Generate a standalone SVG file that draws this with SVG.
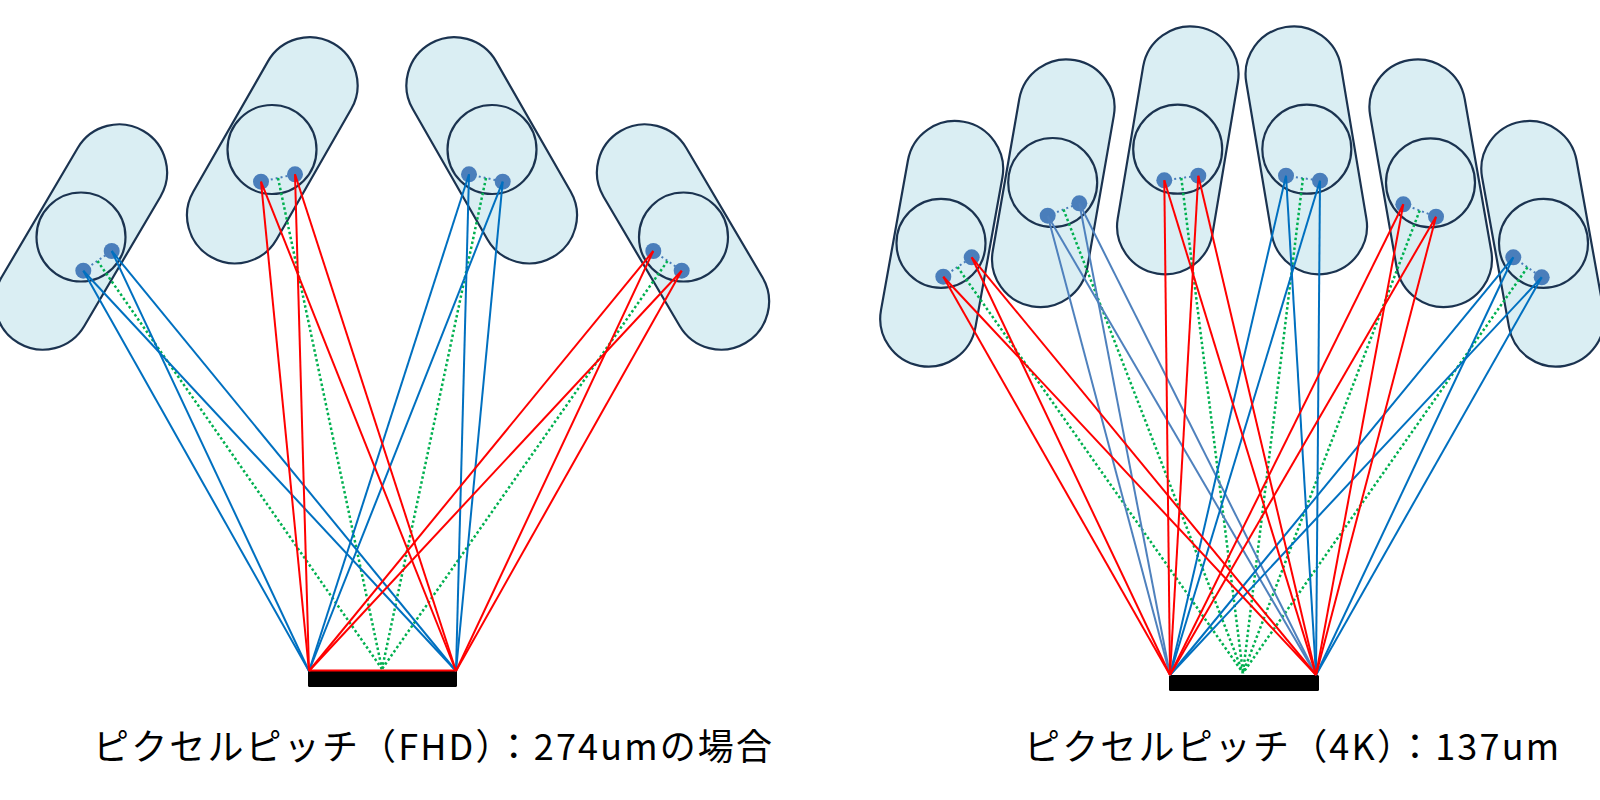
<svg xmlns="http://www.w3.org/2000/svg" width="1600" height="800" viewBox="0 0 1600 800">
<style>
.pill{fill:#DAEEF3;stroke:#1B3350;stroke-width:2.2}
.lens{fill:none;stroke:#1B3350;stroke-width:2.2}
.dot{fill:#4A7EBB}
.pair{stroke:#4A7EBB;stroke-width:2;stroke-dasharray:2 3;fill:none}
.g{stroke:#00B050;stroke-width:2.5;stroke-dasharray:2.5 2.5;fill:none}
.b{stroke:#0070C0;stroke-width:2;fill:none}
.sb{stroke:#4F81BD;stroke-width:2;fill:none}
.r{stroke:#FF0000;stroke-width:2;fill:none}
.bar{fill:#000}
.cap{font-family:"Noto Sans CJK JP","Noto Sans",sans-serif;font-size:36px;fill:#000}
</style>
<rect width="1600" height="800" fill="#fff"/>

<!-- Left diagram -->
<g id="fhd-eye-1">
<rect class="pill" x="-48" y="-123" width="96" height="246" rx="48" transform="translate(81,237) rotate(30.5)"/>
<circle class="lens" cx="81" cy="237" r="44.5"/>
<circle class="dot" cx="83.3" cy="270.7" r="8"/>
<circle class="dot" cx="111.7" cy="251" r="8"/>
</g>
<g id="fhd-eye-2">
<rect class="pill" x="-48" y="-123" width="96" height="246" rx="48" transform="translate(272.3,150.3) rotate(29.8)"/>
<circle class="lens" cx="272" cy="149.5" r="44.5"/>
<circle class="dot" cx="261" cy="181.7" r="8"/>
<circle class="dot" cx="295" cy="174.3" r="8"/>
</g>
<g id="fhd-eye-3">
<rect class="pill" x="-48" y="-123" width="96" height="246" rx="48" transform="translate(491.7,150.3) rotate(-29.8)"/>
<circle class="lens" cx="492" cy="149.5" r="44.5"/>
<circle class="dot" cx="469" cy="174.3" r="8"/>
<circle class="dot" cx="502.7" cy="181.7" r="8"/>
</g>
<g id="fhd-eye-4">
<rect class="pill" x="-48" y="-123" width="96" height="246" rx="48" transform="translate(683,237) rotate(-30.5)"/>
<circle class="lens" cx="683.5" cy="237" r="44.5"/>
<circle class="dot" cx="653.3" cy="251" r="8"/>
<circle class="dot" cx="681.7" cy="270.7" r="8"/>
</g>
<g id="fhd-panel">
<rect class="bar" x="308" y="670" width="149" height="17" rx="1.5"/>
</g>

<!-- Right diagram -->
<g id="k4-eye-1">
<rect class="pill" x="-48" y="-124" width="96" height="248" rx="48" transform="translate(941.7,243.8) rotate(10.2)"/>
<circle class="lens" cx="941" cy="243.3" r="44.5"/>
<circle class="dot" cx="943.3" cy="276.7" r="8"/>
<circle class="dot" cx="971.7" cy="257.3" r="8"/>
</g>
<g id="k4-eye-2">
<rect class="pill" x="-48" y="-125" width="96" height="250" rx="48" transform="translate(1053.3,183.2) rotate(9.9)"/>
<circle class="lens" cx="1052.7" cy="182.5" r="44.5"/>
<circle class="dot" cx="1047.7" cy="215.7" r="8"/>
<circle class="dot" cx="1079.3" cy="203.3" r="8"/>
</g>
<g id="k4-eye-3">
<rect class="pill" x="-48" y="-125" width="96" height="250" rx="48" transform="translate(1177.8,150.3) rotate(9.5)"/>
<circle class="lens" cx="1177.7" cy="149.2" r="44.5"/>
<circle class="dot" cx="1164.3" cy="180.3" r="8"/>
<circle class="dot" cx="1198.3" cy="175.7" r="8"/>
</g>
<g id="k4-eye-4">
<rect class="pill" x="-48" y="-125" width="96" height="250" rx="48" transform="translate(1306.3,150.3) rotate(-9.5)"/>
<circle class="lens" cx="1306.8" cy="149.2" r="44.5"/>
<circle class="dot" cx="1286" cy="175.7" r="8"/>
<circle class="dot" cx="1320" cy="180.7" r="8"/>
</g>
<g id="k4-eye-5">
<rect class="pill" x="-48" y="-125" width="96" height="250" rx="48" transform="translate(1430.7,183.2) rotate(-9.9)"/>
<circle class="lens" cx="1430.5" cy="182.8" r="44.5"/>
<circle class="dot" cx="1403.3" cy="204.3" r="8"/>
<circle class="dot" cx="1436" cy="216.7" r="8"/>
</g>
<g id="k4-eye-6">
<rect class="pill" x="-48" y="-124" width="96" height="248" rx="48" transform="translate(1542.8,243.8) rotate(-10.2)"/>
<circle class="lens" cx="1543.5" cy="243.3" r="44.5"/>
<circle class="dot" cx="1513.3" cy="257.3" r="8"/>
<circle class="dot" cx="1541.7" cy="277.3" r="8"/>
</g>
<g id="k4-panel">
<rect class="bar" x="1169" y="675" width="150" height="16" rx="1.5"/>
</g>

<g id="connectors">
<!-- left: pair links -->
<line class="pair" x1="83.3" y1="270.7" x2="111.7" y2="251"/>
<line class="pair" x1="261" y1="181.7" x2="295" y2="174.3"/>
<line class="pair" x1="469" y1="174.3" x2="502.7" y2="181.7"/>
<line class="pair" x1="653.3" y1="251" x2="681.7" y2="270.7"/>
<!-- left: green centre rays -->
<line class="g" x1="97.5" y1="261" x2="382" y2="669"/>
<line class="g" x1="278" y1="178" x2="382" y2="669"/>
<line class="g" x1="486" y1="178" x2="382" y2="669"/>
<line class="g" x1="667.5" y1="261" x2="382" y2="669"/>
<!-- left: eye 1 blue -->
<line class="b" x1="83.3" y1="270.7" x2="309" y2="671"/>
<line class="b" x1="83.3" y1="270.7" x2="456" y2="671"/>
<line class="b" x1="111.7" y1="251" x2="309" y2="671"/>
<line class="b" x1="111.7" y1="251" x2="456" y2="671"/>
<!-- left: eye 3 blue -->
<line class="b" x1="469" y1="174.3" x2="309" y2="671"/>
<line class="b" x1="469" y1="174.3" x2="456" y2="671"/>
<line class="b" x1="502.7" y1="181.7" x2="309" y2="671"/>
<line class="b" x1="502.7" y1="181.7" x2="456" y2="671"/>
<!-- left: eye 2 red -->
<line class="r" x1="261" y1="181.7" x2="309" y2="671"/>
<line class="r" x1="261" y1="181.7" x2="456" y2="671"/>
<line class="r" x1="295" y1="174.3" x2="309" y2="671"/>
<line class="r" x1="295" y1="174.3" x2="456" y2="671"/>
<!-- left: eye 4 red -->
<line class="r" x1="653.3" y1="251" x2="309" y2="671"/>
<line class="r" x1="653.3" y1="251" x2="456" y2="671"/>
<line class="r" x1="681.7" y1="270.7" x2="309" y2="671"/>
<line class="r" x1="681.7" y1="270.7" x2="456" y2="671"/>
<line class="r" x1="309" y1="670.5" x2="456" y2="670.5" stroke-width="1.5"/>

<!-- right: pair links -->
<line class="pair" x1="943.3" y1="276.7" x2="971.7" y2="257.3"/>
<line class="pair" x1="1047.7" y1="215.7" x2="1079.3" y2="203.3"/>
<line class="pair" x1="1164.3" y1="180.3" x2="1198.3" y2="175.7"/>
<line class="pair" x1="1286" y1="175.7" x2="1320" y2="180.7"/>
<line class="pair" x1="1403.3" y1="204.3" x2="1436" y2="216.7"/>
<line class="pair" x1="1513.3" y1="257.3" x2="1541.7" y2="277.3"/>
<!-- right: green centre rays -->
<line class="g" x1="957.5" y1="267" x2="1243" y2="673"/>
<line class="g" x1="1063.5" y1="209.5" x2="1243" y2="673"/>
<line class="g" x1="1181.3" y1="178" x2="1243" y2="673"/>
<line class="g" x1="1303" y1="178" x2="1243" y2="673"/>
<line class="g" x1="1419.7" y1="210.5" x2="1243" y2="673"/>
<line class="g" x1="1527.5" y1="267.3" x2="1243" y2="673"/>
<!-- right: eye 2 steel blue -->
<line class="sb" x1="1047.7" y1="215.7" x2="1170" y2="675"/>
<line class="sb" x1="1047.7" y1="215.7" x2="1316" y2="675"/>
<line class="sb" x1="1079.3" y1="203.3" x2="1170" y2="675"/>
<line class="sb" x1="1079.3" y1="203.3" x2="1316" y2="675"/>
<!-- right: eye 4 blue -->
<line class="b" x1="1286" y1="175.7" x2="1170" y2="675"/>
<line class="b" x1="1286" y1="175.7" x2="1316" y2="675"/>
<line class="b" x1="1320" y1="180.7" x2="1170" y2="675"/>
<line class="b" x1="1320" y1="180.7" x2="1316" y2="675"/>
<!-- right: eye 6 blue -->
<line class="b" x1="1513.3" y1="257.3" x2="1170" y2="675"/>
<line class="b" x1="1513.3" y1="257.3" x2="1316" y2="675"/>
<line class="b" x1="1541.7" y1="277.3" x2="1170" y2="675"/>
<line class="b" x1="1541.7" y1="277.3" x2="1316" y2="675"/>
<!-- right: eye 1 red -->
<line class="r" x1="943.3" y1="276.7" x2="1170" y2="675"/>
<line class="r" x1="943.3" y1="276.7" x2="1316" y2="675"/>
<line class="r" x1="971.7" y1="257.3" x2="1170" y2="675"/>
<line class="r" x1="971.7" y1="257.3" x2="1316" y2="675"/>
<!-- right: eye 3 red -->
<line class="r" x1="1164.3" y1="180.3" x2="1170" y2="675"/>
<line class="r" x1="1164.3" y1="180.3" x2="1316" y2="675"/>
<line class="r" x1="1198.3" y1="175.7" x2="1170" y2="675"/>
<line class="r" x1="1198.3" y1="175.7" x2="1316" y2="675"/>
<!-- right: eye 5 red -->
<line class="r" x1="1403.3" y1="204.3" x2="1170" y2="675"/>
<line class="r" x1="1403.3" y1="204.3" x2="1316" y2="675"/>
<line class="r" x1="1436" y1="216.7" x2="1170" y2="675"/>
<line class="r" x1="1436" y1="216.7" x2="1316" y2="675"/>
</g>

<g id="labels">
<text class="cap" x="93" y="760" textLength="679" lengthAdjust="spacing">ピクセルピッチ（FHD）：274umの場合</text>
<text class="cap" x="1024" y="760" textLength="535" lengthAdjust="spacing">ピクセルピッチ（4K）：137um</text>
</g>
</svg>
